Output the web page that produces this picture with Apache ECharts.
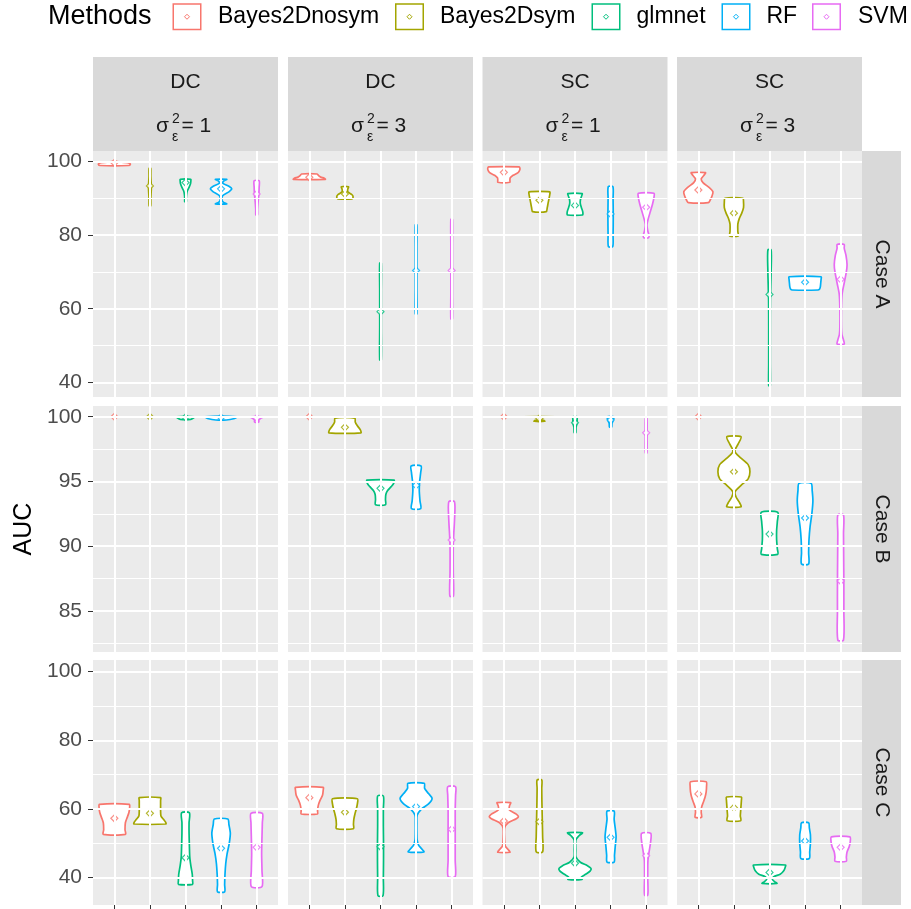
<!DOCTYPE html>
<html><head><meta charset="utf-8">
<script src="https://cdn.jsdelivr.net/npm/echarts@6/dist/echarts.min.js"></script>
<style>html,body{margin:0;padding:0;background:#fff}#c{width:911px;height:909px}</style>
</head><body><div id="c"></div>
<script>
// ---------------- data ----------------
const methods = ['Bayes2Dnosym', 'Bayes2Dsym', 'glmnet', 'RF', 'SVM'];
const colTypes = ['DC', 'DC', 'SC', 'SC'];
const colSigma = [1, 3, 1, 3];
const rowCases = ['Case A', 'Case B', 'Case C'];
const yAxisTitle = 'AUC';
const legendTitle = 'Methods';

const yMajorA = [40, 60, 80, 100], yMinorA = [50, 70, 90];
const yMajorB = [85, 90, 95, 100], yMinorB = [82.5, 87.5, 92.5, 97.5];
const yMajorC = [40, 60, 80, 100], yMinorC = [50, 70, 90];
const yRangeA = [36.0, 102.9], yRangeB = [81.83, 100.83], yRangeC = [32.05, 103.4];

// mean AUC per panel (columns: DC s1, DC s3, SC s1, SC s3), per method
const meanCaseA = [
  [99.7, 93.4, 94.3, 92.6, 91.2],
  [95.75, 91.2, 59.2, 70.4, 70.4],
  [97.1, 89.5, 88.1, 85.8, 87.6],
  [92.3, 86.0, 63.9, 67.2, 68.0]
];
const meanCaseB = [
  [100, 100, 99.95, 99.95, 99.9],
  [100, 99.18, 94.47, 94.7, 90.48],
  [100, 99.88, 99.54, 99.75, 98.76],
  [100, 95.75, 90.94, 92.18, 87.31]
];
const meanCaseC = [
  [57.3, 58.75, 45.8, 48.55, 48.85],
  [63.3, 59.05, 49.0, 60.7, 54.1],
  [56.5, 56.3, 44.2, 51.75, 46.4],
  [64.4, 60.4, 41.55, 50.7, 48.85]
];

// violin outlines: [AUC, half width (category units)] from min to max
const violinCaseA = [
  [ // DC, s=1
    [[98.95,0.4],[99.3,0.45],[99.6,0.42],[99.85,0.2],[100,0.08]],
    [[88.0,0.022],[90,0.025],[93,0.04],[96,0.025],[98.2,0.022]],
    [[89.1,0.022],[90,0.022],[91,0.03],[92,0.05],[93,0.1],[94,0.14],[94.7,0.15],[95.2,0.15]],
    [[88.5,0.16],[88.9,0.07],[89.6,0.022],[90.8,0.05],[91.8,0.22],[92.6,0.3],[93.3,0.22],[94.2,0.04],[94.8,0.08],[95.2,0.16]],
    [[85.5,0.022],[87,0.025],[89,0.04],[91,0.06],[93,0.07],[94.8,0.07]]
  ],
  [ // DC, s=3
    [[95.2,0.45],[95.5,0.42],[95.8,0.32],[96.2,0.26],[96.65,0.22]],
    [[89.9,0.2],[90.4,0.23],[91.0,0.2],[91.8,0.08],[92.5,0.08],[93.2,0.1]],
    [[46.1,0.022],[55,0.022],[60,0.022],[65,0.022],[72.4,0.022]],
    [[58.6,0.022],[65,0.022],[70.4,0.022],[77,0.022],[82.8,0.022]],
    [[57.2,0.022],[64,0.022],[70.4,0.022],[77,0.022],[84.3,0.022]]
  ],
  [ // SC, s=1
    [[94.4,0.17],[95.0,0.17],[95.6,0.18],[96.3,0.26],[97.0,0.4],[97.8,0.45],[98.3,0.45],[98.6,0.43]],
    [[86.4,0.19],[87.5,0.22],[88.5,0.24],[90,0.27],[91,0.29],[91.8,0.29]],
    [[85.5,0.21],[86.3,0.22],[87.5,0.18],[88.5,0.15],[89.5,0.15],[90.5,0.18],[91.3,0.2]],
    [[76.9,0.06],[80,0.07],[85,0.075],[90,0.07],[93.2,0.065]],
    [[79.3,0.07],[80,0.08],[81,0.05],[82.8,0.022],[84.5,0.06],[86.5,0.12],[88.5,0.18],[90.3,0.22],[91.4,0.22]]
  ],
  [ // SC, s=3
    [[88.85,0.28],[89.5,0.33],[90.5,0.38],[91.8,0.41],[93,0.3],[94.3,0.13],[95.3,0.08],[96.2,0.15],[97.0,0.2]],
    [[79.8,0.12],[81,0.11],[83,0.11],[84.5,0.15],[86,0.22],[87.5,0.27],[89,0.27],[90.05,0.25]],
    [[39.1,0.022],[45,0.022],[55,0.022],[62,0.025],[66,0.035],[70,0.045],[76,0.045]],
    [[65.1,0.36],[65.4,0.41],[66,0.43],[67,0.44],[68,0.45],[68.7,0.45]],
    [[50.4,0.1],[51.5,0.08],[53,0.035],[55,0.022],[60,0.022],[64,0.04],[67,0.1],[70,0.16],[72,0.18],[74.5,0.15],[76.5,0.1],[77.5,0.1]]
  ]
];
const violinCaseB = [
  [
    [[100,0.04],[100,0.04]],
    [[100,0.04],[100,0.04]],
    [[99.8,0.15],[99.9,0.22],[100,0.25]],
    [[99.75,0.15],[99.85,0.35],[100,0.45]],
    [[99.6,0.06],[99.75,0.06],[99.85,0.1],[99.95,0.17],[100,0.17]]
  ],
  [
    [[100,0.04],[100,0.04]],
    [[98.76,0.45],[99.0,0.43],[99.3,0.35],[99.6,0.29],[99.9,0.28]],
    [[93.2,0.14],[93.6,0.14],[94.0,0.15],[94.3,0.2],[94.6,0.3],[94.85,0.37],[95.1,0.38]],
    [[92.9,0.13],[93.5,0.11],[94.3,0.09],[95.0,0.1],[95.7,0.13],[96.2,0.14]],
    [[86.15,0.05],[88,0.045],[90,0.045],[91,0.06],[92,0.08],[93.44,0.08]]
  ],
  [
    [[100,0.04],[100,0.04]],
    [[99.65,0.15],[99.72,0.12],[99.78,0.03],[99.93,0.03],[99.97,0.2],[100,0.45]],
    [[98.76,0.022],[99.2,0.03],[99.5,0.06],[99.8,0.06],[100,0.06]],
    [[99.2,0.03],[99.5,0.04],[99.75,0.08],[100,0.09]],
    [[97.2,0.022],[98.5,0.025],[99.9,0.022]]
  ],
  [
    [[100,0.04],[100,0.04]],
    [[93.05,0.2],[93.4,0.15],[93.8,0.06],[94.2,0.03],[94.7,0.2],[95.2,0.4],[95.75,0.45],[96.3,0.4],[96.8,0.2],[97.2,0.05],[97.43,0.03],[97.9,0.12],[98.46,0.2]],
    [[89.37,0.23],[89.8,0.22],[90.5,0.2],[91.2,0.2],[91.9,0.22],[92.62,0.23]],
    [[88.63,0.1],[89.5,0.1],[90.5,0.11],[91.5,0.14],[92.5,0.19],[93.5,0.22],[94.3,0.2],[94.86,0.17]],
    [[82.76,0.08],[85,0.09],[87,0.09],[89,0.085],[91,0.08],[92.41,0.08]]
  ]
];
const violinCaseC = [
  [
    [[52.6,0.31],[54,0.3],[56,0.31],[57.5,0.36],[59,0.41],[60.5,0.43],[61.37,0.42]],
    [[55.64,0.45],[56.2,0.44],[57,0.38],[58,0.31],[59.5,0.3],[61,0.3],[62.5,0.3],[63.3,0.3]],
    [[38.07,0.2],[39,0.2],[41,0.19],[43.5,0.15],[46,0.12],[49,0.11],[53,0.1],[56,0.1],[58.93,0.11]],
    [[35.9,0.1],[38,0.1],[41,0.11],[44,0.13],[47,0.17],[50,0.23],[53,0.26],[55.5,0.22],[57.1,0.19]],
    [[37.4,0.15],[42,0.15],[47,0.14],[52,0.15],[56,0.16],[58.75,0.16]]
  ],
  [
    [[58.55,0.23],[59.5,0.23],[61,0.25],[62.5,0.3],[64,0.37],[65.5,0.39],[66.33,0.39]],
    [[54.27,0.24],[55.5,0.24],[57,0.25],[58.5,0.28],[60,0.32],[61.5,0.35],[63.0,0.35]],
    [[34.75,0.07],[40,0.08],[45,0.085],[50,0.085],[55,0.08],[60,0.08],[63.8,0.08]],
    [[47.5,0.22],[48.5,0.15],[49.5,0.07],[51,0.03],[53,0.022],[56,0.022],[58.2,0.03],[60,0.15],[61.5,0.35],[63.1,0.45],[64.5,0.35],[66,0.24],[67.5,0.23]],
    [[40.3,0.1],[45,0.1],[50,0.1],[55,0.1],[60,0.1],[64,0.11],[66.5,0.11]]
  ],
  [
    [[47.4,0.17],[48.2,0.12],[49.2,0.04],[51,0.022],[54.5,0.022],[56,0.12],[57.2,0.35],[57.75,0.41],[58.5,0.35],[59.8,0.15],[61,0.16],[61.85,0.19]],
    [[47.5,0.09],[52,0.09],[57,0.08],[62,0.07],[66,0.065],[68.45,0.065]],
    [[39.53,0.2],[40.2,0.18],[41.0,0.3],[42.0,0.43],[42.7,0.45],[43.5,0.35],[44.5,0.15],[46.1,0.025],[48,0.022],[51,0.025],[52.3,0.12],[53.1,0.21]],
    [[44.55,0.1],[46.5,0.11],[49,0.13],[51.9,0.155],[54.5,0.13],[57,0.1],[59.4,0.1]],
    [[34.95,0.045],[40,0.045],[45,0.05],[48,0.09],[50,0.12],[52.9,0.13]]
  ],
  [
    [[57.6,0.09],[59,0.08],[60.5,0.09],[62,0.14],[63.5,0.19],[65,0.22],[66.5,0.23],[67.95,0.22]],
    [[56.6,0.19],[58,0.18],[59.5,0.19],[61,0.2],[62.5,0.21],[63.5,0.21]],
    [[38.35,0.21],[38.8,0.15],[39.5,0.08],[40.3,0.12],[41,0.3],[42,0.4],[43,0.44],[43.7,0.45]],
    [[45.6,0.12],[47.5,0.13],[50,0.15],[52.5,0.15],[54.5,0.12],[56.0,0.1]],
    [[44.8,0.16],[46,0.16],[47.5,0.18],[49,0.24],[50.5,0.27],[51.9,0.26]]
  ]
];

// ---------------- style / layout ----------------
const colors = ['#F8766D', '#A3A500', '#00BF7D', '#00B0F6', '#E76BF3'];
const FONT = '"Liberation Sans", Arial, Helvetica, sans-serif';
const colLeft = [93, 288, 482.5, 677], panelW = 185;
const rowTop = [151, 406, 660], rowH = [246, 246, 245];
const stripTop = 57, stripH = 94, rightStripX = 862, rightStripW = 39;

const rows = [
  {major: yMajorA, minor: yMinorA, range: yRangeA, means: meanCaseA, violins: violinCaseA},
  {major: yMajorB, minor: yMinorB, range: yRangeB, means: meanCaseB, violins: violinCaseB},
  {major: yMajorC, minor: yMinorC, range: yRangeC, means: meanCaseC, violins: violinCaseC}
];
const catPos = methods.map((m, i) => i + 1);

const grids = [], xAxes = [], yAxes = [], series = [];
rows.forEach((row, r) => {
  colTypes.forEach((ct, c) => {
    const k = grids.length;
    grids.push({left: colLeft[c], top: rowTop[r], width: panelW, height: rowH[r],
      show: true, backgroundColor: '#EBEBEB', borderWidth: 0, containLabel: false});
    xAxes.push({type: 'value', gridIndex: k, min: 0.4, max: 5.6,
      axisLine: {show: false}, splitLine: {show: false},
      axisLabel: {show: false},
      axisTick: {show: r === rows.length - 1, customValues: catPos, length: 4,
        lineStyle: {color: '#333333', width: 1}}});
    yAxes.push({type: 'value', gridIndex: k, min: row.range[0], max: row.range[1],
      axisLine: {show: false}, splitLine: {show: false},
      axisLabel: {show: c === 0, customValues: row.major, margin: 11,
        color: '#4D4D4D', fontSize: 21, fontFamily: FONT},
      axisTick: {show: c === 0, customValues: row.major, length: 5,
        lineStyle: {color: '#333333', width: 1}}});
    // panel gridlines
    const gl = [];
    row.minor.forEach(v => gl.push({yAxis: v, lineStyle: {color: '#FFFFFF', width: 1, type: 'solid'}}));
    row.major.forEach(v => gl.push({yAxis: v, lineStyle: {color: '#FFFFFF', width: 2, type: 'solid'}}));
    catPos.forEach(v => gl.push({xAxis: v, lineStyle: {color: '#FFFFFF', width: 2, type: 'solid'}}));
    series.push({type: 'scatter', xAxisIndex: k, yAxisIndex: k, data: [], silent: true, z: 1,
      markLine: {silent: true, symbol: ['none', 'none'], label: {show: false}, animation: false,
        emphasis: {disabled: true}, data: gl}});
    // violins
    const profs = row.violins[c];
    series.push({type: 'custom', xAxisIndex: k, yAxisIndex: k, z: 3, silent: true, clip: false,
      data: methods.map((m, i) => [catPos[i], i]),
      renderItem: function (params, api) {
        const i = params.dataIndex;
        const prof = profs[i];
        const xc = catPos[i];
        const pts = [];
        for (let j = 0; j < prof.length; j++) pts.push(api.coord([xc + prof[j][1], prof[j][0]]));
        for (let j = prof.length - 1; j >= 0; j--) pts.push(api.coord([xc - prof[j][1], prof[j][0]]));
        return {type: 'polygon', shape: {points: pts, smooth: 0.25},
          style: {fill: '#FFFFFF', stroke: colors[i], lineWidth: 1.7, lineJoin: 'round'}};
      }});
    // means
    series.push({type: 'scatter', xAxisIndex: k, yAxisIndex: k, z: 4, silent: true,
      symbol: 'diamond', symbolSize: 7,
      data: row.means[c].map((v, i) => ({value: [catPos[i], v],
        itemStyle: {color: '#FFFFFF', borderColor: colors[i], borderWidth: 1.2}}))});
  });
});

// ---------------- strips, titles, legend ----------------
const graphic = [];
colTypes.forEach((ct, c) => {
  const cx = colLeft[c] + panelW / 2;
  graphic.push({type: 'rect', silent: true, shape: {x: colLeft[c], y: stripTop, width: panelW, height: stripH},
    style: {fill: '#D9D9D9'}});
  graphic.push({type: 'text', silent: true, x: cx, y: 82,
    style: {text: ct, font: '21px ' + FONT, fill: '#1A1A1A', align: 'center', verticalAlign: 'middle'}});
  graphic.push({type: 'text', silent: true, x: cx - 29.5, y: 126.6,
    style: {text: 'σ', font: '21px ' + FONT, fill: '#1A1A1A', align: 'left', verticalAlign: 'middle'}});
  graphic.push({type: 'text', silent: true, x: cx - 13.5, y: 119.5,
    style: {text: '2', font: '14px ' + FONT, fill: '#1A1A1A', align: 'left', verticalAlign: 'middle'}});
  graphic.push({type: 'text', silent: true, x: cx - 13.5, y: 137,
    style: {text: 'ε', font: '14px ' + FONT, fill: '#1A1A1A', align: 'left', verticalAlign: 'middle'}});
  graphic.push({type: 'text', silent: true, x: cx - 4, y: 126.6,
    style: {text: '= ' + colSigma[c], font: '21px ' + FONT, fill: '#1A1A1A', align: 'left', verticalAlign: 'middle'}});
});
rowCases.forEach((rc, r) => {
  graphic.push({type: 'rect', silent: true, shape: {x: rightStripX, y: rowTop[r], width: rightStripW, height: rowH[r]},
    style: {fill: '#D9D9D9'}});
  graphic.push({type: 'text', silent: true, x: rightStripX + rightStripW / 2, y: rowTop[r] + rowH[r] / 2,
    rotation: -Math.PI / 2,
    style: {text: rc, font: '21px ' + FONT, fill: '#1A1A1A', align: 'center', verticalAlign: 'middle'}});
});
graphic.push({type: 'text', silent: true, x: 24, y: 529, rotation: Math.PI / 2,
  style: {text: yAxisTitle, font: '25px ' + FONT, fill: '#000000', align: 'center', verticalAlign: 'middle'}});
graphic.push({type: 'text', silent: true, x: 48, y: 17,
  style: {text: legendTitle, font: '27px ' + FONT, fill: '#000000', align: 'left', verticalAlign: 'middle'}});
const keyX = [172.5, 395, 591.5, 721.5, 812];
const labelX = [218, 440, 636.5, 766.5, 858];
methods.forEach((m, i) => {
  graphic.push({type: 'rect', silent: true, shape: {x: keyX[i] + 0.75, y: 4, width: 27.5, height: 25.5},
    style: {fill: '#FFFFFF', stroke: colors[i], lineWidth: 1.5}});
  const kx = keyX[i] + 14.5, ky = 16.75;
  graphic.push({type: 'polygon', silent: true,
    shape: {points: [[kx, ky - 2.5], [kx + 2.5, ky], [kx, ky + 2.5], [kx - 2.5, ky]]},
    style: {fill: '#FFFFFF', stroke: colors[i], lineWidth: 1}});
  graphic.push({type: 'text', silent: true, x: labelX[i], y: 17,
    style: {text: m, font: '23px ' + FONT, fill: '#000000', align: 'left', verticalAlign: 'middle'}});
});

const chart = echarts.init(document.getElementById('c'), null, {renderer: 'canvas'});
chart.setOption({
  animation: false,
  backgroundColor: '#FFFFFF',
  grid: grids, xAxis: xAxes, yAxis: yAxes, series: series, graphic: graphic
});
</script></body></html>
